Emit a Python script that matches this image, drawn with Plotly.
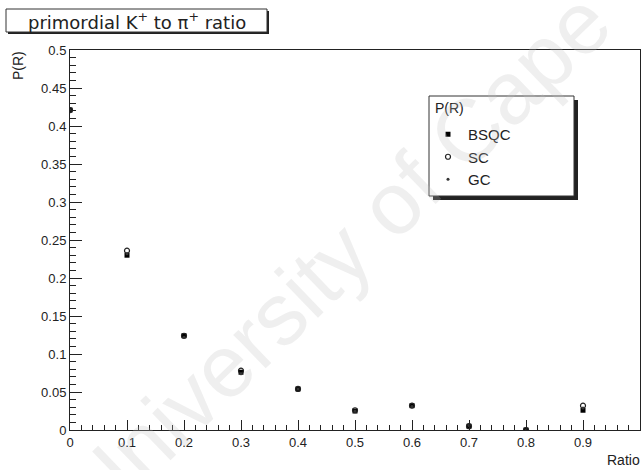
import plotly.graph_objects as go

# K+/pi+ ratio bins and probabilities for each model
ratio = [0.0, 0.1, 0.2, 0.3, 0.4, 0.5, 0.6, 0.7, 0.8, 0.9]
p_bsqc = [0.421, 0.230, 0.124, 0.076, 0.054, 0.025, 0.032, 0.005, 0.000, 0.026]
p_sc = [0.421, 0.236, 0.124, 0.078, 0.054, 0.026, 0.032, 0.005, 0.000, 0.032]
p_gc = [0.421, 0.232, 0.122, 0.074, 0.054, 0.025, 0.031, 0.006, 0.000, 0.029]
series_names = ["BSQC", "SC", "GC"]

W, H = 643, 470
ML, MR, MT, MB = 70, 3, 50, 40
PW, PH = W - ML - MR, H - MT - MB


def px(x):
    return (x - ML) / PW


def py(y):
    return (H - MB - y) / PH


fig = go.Figure()
fig.add_trace(go.Scatter(x=ratio, y=p_bsqc, mode="markers", name=series_names[0],
                         marker=dict(symbol="square", size=5, color="black")))
fig.add_trace(go.Scatter(x=ratio, y=p_sc, mode="markers", name=series_names[1],
                         marker=dict(symbol="circle-open", size=5, color="#222",
                                     line=dict(width=1.2))))
fig.add_trace(go.Scatter(x=ratio, y=p_gc, mode="markers", name=series_names[2],
                         marker=dict(symbol="circle", size=3, color="#333")))

font = "Liberation Sans, Arial, sans-serif"
wide = "DejaVu Sans, Verdana, sans-serif"
shapes = []


def boxed(x0, y0, x1, y1, sh):
    # shadow then white box with black frame
    shapes.append(dict(type="rect", xref="paper", yref="paper",
                       x0=px(x0 + sh), x1=px(x1 + sh), y0=py(y0 + sh), y1=py(y1 + sh),
                       fillcolor="#222", line=dict(width=0), layer="above"))
    shapes.append(dict(type="rect", xref="paper", yref="paper",
                       x0=px(x0), x1=px(x1), y0=py(y0), y1=py(y1),
                       fillcolor="white", line=dict(color="#333", width=1), layer="above"))


boxed(6, 9, 267, 32, 2)
boxed(429, 96, 574, 196, 4)

annotations = [
    dict(text="primordial K<sup>+</sup> to π<sup>+</sup> ratio", xref="paper", yref="paper",
         x=px(137), y=py(21), showarrow=False, font=dict(family=wide, size=18, color="#222"),
         xanchor="center", yanchor="middle"),
    dict(text="P(R)", xref="paper", yref="paper", x=px(18), y=py(66), textangle=-90,
         showarrow=False, font=dict(family=font, size=14, color="#222"),
         xanchor="center", yanchor="middle"),
    dict(text="Ratio", xref="paper", yref="paper", x=px(642), y=py(460),
         showarrow=False, font=dict(family=font, size=14, color="#222"),
         xanchor="right", yanchor="middle"),
    dict(text="P(R)", xref="paper", yref="paper", x=px(433), y=py(108),
         showarrow=False, font=dict(family=font, size=14, color="#222"),
         xanchor="left", yanchor="middle"),
    dict(text="University of Cape Town", xref="paper", yref="paper", x=px(418), y=py(178),
         textangle=-44, showarrow=False,
         font=dict(family=font, size=88, color="rgba(190,190,190,0.25)"),
         xanchor="center", yanchor="middle"),
]

fig.update_layout(
    width=W, height=H,
    margin=dict(l=ML, r=MR, t=MT, b=MB),
    paper_bgcolor="white", plot_bgcolor="rgba(0,0,0,0)",
    showlegend=True,
    legend=dict(x=px(428), y=py(118), xanchor="left", yanchor="top",
                bgcolor="rgba(0,0,0,0)", borderwidth=0,
                font=dict(family=font, size=15, color="#222"),
                itemsizing="trace", tracegroupgap=0),
    shapes=shapes,
    annotations=annotations,
    font=dict(family=font, color="#222"),
)

fig.update_xaxes(range=[0, 1.0], dtick=0.1, tick0=0, ticks="inside", ticklen=10,
                 tickcolor="#222", showline=True, linecolor="#222", linewidth=1,
                 mirror=True, showgrid=False, zeroline=False,
                 tickfont=dict(family=font, size=13, color="#222"),
                 minor=dict(dtick=0.02, ticks="inside", ticklen=5, tickcolor="#222"))
fig.update_yaxes(range=[0, 0.5], dtick=0.05, tick0=0, ticks="inside", ticklen=12,
                 tickcolor="#222", showline=True, linecolor="#222", linewidth=1,
                 mirror=True, showgrid=False, zeroline=False,
                 tickfont=dict(family=font, size=13, color="#222"),
                 minor=dict(dtick=0.01, ticks="inside", ticklen=6, tickcolor="#222"))

fig.write_html("out.html")
